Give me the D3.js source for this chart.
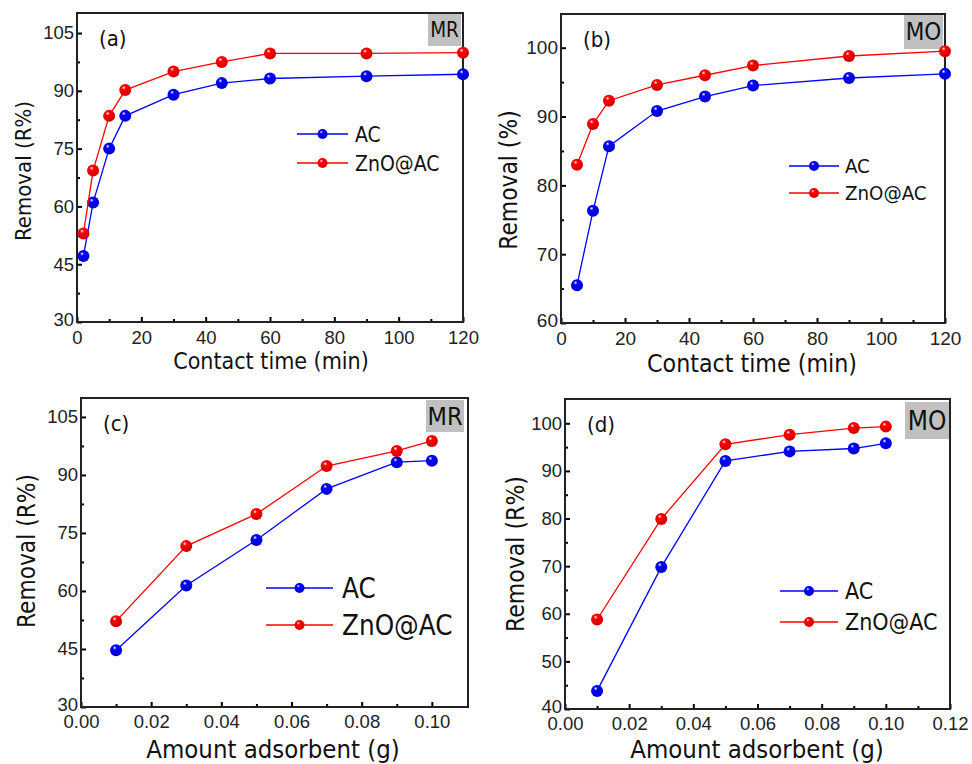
<!DOCTYPE html>
<html>
<head>
<meta charset="utf-8">
<script src="https://cdn.jsdelivr.net/npm/d3@7"></script>
<style>
  body { margin: 0; background: #fff; }
  svg { display: block; font-family: "DejaVu Sans Condensed", "DejaVu Sans", sans-serif; }
</style>
</head>
<body>
<svg id="chart" width="972" height="764"></svg>
<script>
// 数据 (a) MR, contact time
const timeA = [2, 5, 10, 15, 30, 45, 60, 90, 120];
const acA = [47.1, 61, 75, 83.5, 89, 92, 93.2, 93.8, 94.3];
const znoA = [53, 69.3, 83.5, 90.2, 95, 97.5, 99.7, 99.7, 99.9];

// 数据 (b) MO, contact time
const timeB = [5, 10, 15, 30, 45, 60, 90, 120];
const acB = [65.5, 76.3, 85.7, 90.8, 92.9, 94.5, 95.6, 96.2];
const znoB = [83, 88.9, 92.3, 94.6, 96, 97.4, 98.8, 99.5];

// 数据 (c) MR, amount adsorbent
const doseC = [0.01, 0.03, 0.05, 0.07, 0.09, 0.10];
const acC = [44.7, 61.4, 73.2, 86.4, 93.3, 93.7];
const znoC = [52.2, 71.6, 79.9, 92.3, 96.2, 98.8];

// 数据 (d) MO, amount adsorbent
const doseD = [0.01, 0.03, 0.05, 0.07, 0.09, 0.10];
const acD = [43.8, 69.8, 92.1, 94.1, 94.7, 95.8];
const znoD = [58.8, 79.9, 95.6, 97.6, 99.0, 99.3];

const seriesNames = ["AC", "ZnO@AC"];
const seriesColors = ["#0000ff", "#ff0000"];

const svg = d3.select("#chart");
const defs = svg.append("defs");

// 球形标记的渐变
seriesColors.forEach((c, i) => {
    const g = defs.append("radialGradient").attr("id", "ball" + i)
        .attr("cx", "40%").attr("cy", "35%").attr("r", "65%").attr("fx", "38%").attr("fy", "30%");
    g.append("stop").attr("offset", "0%").attr("stop-color", "#ffffff");
    g.append("stop").attr("offset", "25%").attr("stop-color", c);
    g.append("stop").attr("offset", "100%").attr("stop-color", d3.color(c).darker(0.6));
});

const panels = [
    {box: [77, 13, 463, 322], x: timeA, ys: [acA, znoA], xDom: [0, 120], yDom: [30, 110.2],
     xTicks: d3.range(0, 121, 20), xMinor: d3.range(10, 120, 20), yTicks: [30, 45, 60, 75, 90, 105], yMinor: [37.5, 52.5, 67.5, 82.5, 97.5],
     xFmt: d3.format("d"), tickSize: 18.5, xPad: 9,
     yTitle: "Removal (R%)", yT: [31, 171, 22], xTitle: "Contact time (min)", xT: [271, 369, 23],
     tag: "(a)", dye: "MR", dyeBox: [428, 13, 461, 46], dyeSize: 20.5,
     legend: {x0: 297, x1: 348, y: [134, 163], tx: 355, size: 21}},
    {box: [561, 14, 945, 323], x: timeB, ys: [acB, znoB], xDom: [0, 120], yDom: [60, 104.9],
     xTicks: d3.range(0, 121, 20), xMinor: d3.range(10, 120, 20), yTicks: [60, 70, 80, 90, 100], yMinor: [65, 75, 85, 95],
     xFmt: d3.format("d"), tickSize: 19, xPad: 9,
     yTitle: "Removal (%)", yT: [517, 180, 24.3], xTitle: "Contact time (min)", xT: [752, 372, 24.7],
     tag: "(b)", dye: "MO", dyeBox: [904, 14, 943, 49], dyeSize: 24,
     legend: {x0: 789, x1: 839, y: [166, 193], tx: 845, size: 20.3}},
    {box: [81, 398, 468, 707], x: doseC, ys: [acC, znoC], xDom: [0, 0.1103], yDom: [30, 109.9],
     xTicks: d3.range(0, 0.101, 0.02), xMinor: [0.01, 0.03, 0.05, 0.07, 0.09], yTicks: [30, 45, 60, 75, 90, 105], yMinor: [37.5, 52.5, 67.5, 82.5, 97.5],
     xFmt: d3.format(".2f"), tickSize: 18.5, xPad: 8,
     yTitle: "Removal (R%)", yT: [35, 551, 24.2], xTitle: "Amount adsorbent (g)", xT: [273, 758, 25.5],
     tag: "(c)", dye: "MR", dyeBox: [426, 400, 464, 432], dyeSize: 25,
     legend: {x0: 266, x1: 333, y: [588, 625], tx: 342, size: 27.5}},
    {box: [565, 399, 950, 709], x: doseD, ys: [acD, znoD], xDom: [0, 0.12], yDom: [40, 105.1],
     xTicks: d3.range(0, 0.121, 0.02), xMinor: [0.01, 0.03, 0.05, 0.07, 0.09, 0.11], yTicks: [40, 50, 60, 70, 80, 90, 100], yMinor: [45, 55, 65, 75, 85, 95],
     xFmt: d3.format(".2f"), tickSize: 18.5, xPad: 8,
     yTitle: "Removal (R%)", yT: [524, 554, 24.5], xTitle: "Amount adsorbent (g)", xT: [757, 758, 25.5],
     tag: "(d)", dye: "MO", dyeBox: [905, 402, 949, 439], dyeSize: 26,
     legend: {x0: 780, x1: 838, y: [591, 622], tx: 845, size: 23}}
];

function drawPanel(p) {
    const [l, t, r, b] = p.box;
    const g = svg.append("g");
    const sx = d3.scaleLinear().domain(p.xDom).range([l, r]);
    const sy = d3.scaleLinear().domain(p.yDom).range([b, t]);

    // 右上角染料标签
    const [dl, dt, dr, db] = p.dyeBox;
    g.append("rect").attr("x", dl).attr("y", dt).attr("width", dr - dl).attr("height", db - dt).attr("fill", "#c0c0c0");
    g.append("text").attr("x", (dl + dr) / 2).attr("y", (dt + db) / 2).attr("dy", "0.36em")
        .attr("text-anchor", "middle").attr("font-size", p.dyeSize).attr("fill", "#111").text(p.dye);

    // 坐标轴 (刻度朝内)
    g.append("g").attr("transform", `translate(0,${b})`)
        .call(d3.axisBottom(sx).tickValues(p.xTicks).tickFormat(p.xFmt).tickSize(-5).tickPadding(p.xPad))
        .call(a => a.select(".domain").remove())
        .call(a => a.selectAll("line").attr("stroke-width", 2))
        .call(a => a.selectAll("text").attr("font-size", p.tickSize).attr("font-family", null).attr("fill", "#222"));
    g.append("g").attr("transform", `translate(0,${b})`)
        .call(d3.axisBottom(sx).tickValues(p.xMinor).tickFormat("").tickSize(-3))
        .call(a => a.select(".domain").remove())
        .call(a => a.selectAll("line").attr("stroke-width", 2));
    g.append("g").attr("transform", `translate(${l},0)`)
        .call(d3.axisLeft(sy).tickValues(p.yTicks).tickSize(-5).tickPadding(3))
        .call(a => a.select(".domain").remove())
        .call(a => a.selectAll("line").attr("stroke-width", 2))
        .call(a => a.selectAll("text").attr("font-size", p.tickSize).attr("font-family", null).attr("fill", "#222"))
        // 最下面的刻度标签稍微上移, 避免与 x 轴标签重叠
        .call(a => a.selectAll(".tick").filter(d => d === p.yDom[0]).select("text").attr("dy", "0.2em"));
    g.append("g").attr("transform", `translate(${l},0)`)
        .call(d3.axisLeft(sy).tickValues(p.yMinor).tickFormat("").tickSize(-3))
        .call(a => a.select(".domain").remove())
        .call(a => a.selectAll("line").attr("stroke-width", 2));

    g.append("rect").attr("x", l).attr("y", t).attr("width", r - l).attr("height", b - t)
        .attr("fill", "none").attr("stroke", "#222").attr("stroke-width", 2);

    // 标题
    g.append("text").attr("x", p.xT[0]).attr("y", p.xT[1]).attr("text-anchor", "middle")
        .attr("font-size", p.xT[2]).attr("fill", "#111").text(p.xTitle);
    g.append("text").attr("transform", `translate(${p.yT[0]},${p.yT[1]}) rotate(-90)`).attr("text-anchor", "middle")
        .attr("font-size", p.yT[2]).attr("fill", "#111").text(p.yTitle);
    g.append("text").attr("x", l + 22).attr("y", t + 33).attr("font-size", 22).attr("fill", "#111").text(p.tag);

    // 折线和标记
    const line = d3.line().x(d => sx(d[0])).y(d => sy(d[1]));
    p.ys.forEach((ys, i) => {
        const pts = p.x.map((x, j) => [x, ys[j]]);
        g.append("path").datum(pts).attr("d", line).attr("fill", "none")
            .attr("stroke", seriesColors[i]).attr("stroke-width", 1.3);
        g.selectAll(null).data(pts).join("circle")
            .attr("cx", d => sx(d[0])).attr("cy", d => sy(d[1])).attr("r", 6)
            .attr("fill", `url(#ball${i})`);
    });

    // 图例
    const lg = p.legend;
    seriesNames.forEach((name, i) => {
        const y = lg.y[i];
        g.append("line").attr("x1", lg.x0).attr("x2", lg.x1).attr("y1", y).attr("y2", y)
            .attr("stroke", seriesColors[i]).attr("stroke-width", 1.3);
        g.append("circle").attr("cx", (lg.x0 + lg.x1) / 2).attr("cy", y).attr("r", 5).attr("fill", `url(#ball${i})`);
        g.append("text").attr("x", lg.tx).attr("y", y).attr("dy", "0.36em").attr("font-size", lg.size)
            .attr("fill", "#111").text(name);
    });
}

panels.forEach(drawPanel);
</script>
</body>
</html>
